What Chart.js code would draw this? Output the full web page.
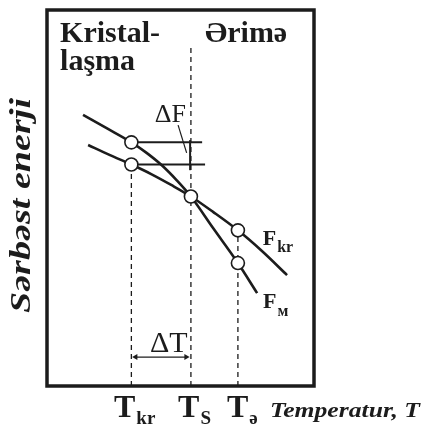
<!DOCTYPE html>
<html>
<head>
<meta charset="utf-8">
<script src="https://cdn.jsdelivr.net/npm/chart.js@4.4.0/dist/chart.umd.min.js"></script>
<style>
  html, body { margin: 0; padding: 0; background: #fff; }
  #wrap { width: 423px; height: 425px; position: relative; }
</style>
</head>
<body>
<div id="wrap"><canvas id="energy"></canvas></div>
<script>
// free energy curves, temperature and energy in arbitrary units (0..100)
const tempCrystal = [15.4, 23.6, 31.6, 39.2, 46.7, 53.9, 62.2, 71.5, 80.5, 89.9];
const energyCrystal = [64.1, 61.4, 58.9, 56.3, 53.4, 50.4, 46.3, 41.4, 35.9, 29.5];
const tempMelt = [13.5, 22.5, 31.6, 37.3, 43.0, 48.6, 53.9, 62.2, 71.5, 78.7];
const energyMelt = [72.1, 68.5, 64.8, 62.0, 58.7, 54.7, 50.4, 42.0, 32.7, 24.7];

// T_kr, T_S, T_ə
const keyTemps = [31.6, 53.9, 71.5];
const keyTempTops = [58.9, 89.9, 41.4];
const tickLabels = [["T", "kr"], ["T", "S"], ["T", "ə"]];

const markerTemp = [31.6, 31.6, 53.9, 71.5, 71.5];
const markerEnergy = [64.8, 58.9, 50.4, 41.4, 32.7];

// ΔF at T_kr
const deltaFEnergy = [64.8, 58.9];
const deltaFEnd = [58.1, 59.2];
const deltaFBar = { x: 53.6, from: 57.4, to: 65.4 };
const deltaFPointer = [[49.1, 69.4], [52.3, 62.0]];
// ΔT = T_S - T_kr
const deltaTArrow = { y: 7.7, from: 33.2, to: 52.1 };

const ink = "#1c1c1c";
const serif = "'Liberation Serif', 'Times New Roman', 'DejaVu Serif', serif";

function pts(xs, ys) {
  return xs.map((x, i) => ({ x: x, y: ys[i] }));
}

function lineSet(data, width, dash, order) {
  return {
    data: data,
    borderColor: ink,
    borderWidth: width,
    borderDash: dash || [],
    pointRadius: 0,
    fill: false,
    showLine: true,
    order: order,
  };
}

const datasets = [
  {
    data: pts(markerTemp, markerEnergy),
    showLine: false,
    pointRadius: 6.5,
    pointBackgroundColor: "#fff",
    pointBorderColor: ink,
    pointBorderWidth: 1.6,
    order: 0,
  },
  Object.assign(lineSet(pts(tempCrystal, energyCrystal), 2.6, null, 1), { cubicInterpolationMode: "monotone" }),
  Object.assign(lineSet(pts(tempMelt, energyMelt), 2.6, null, 1), { cubicInterpolationMode: "monotone" }),
];

keyTemps.forEach((t, i) => {
  datasets.push(lineSet([{ x: t, y: 0 }, { x: t, y: keyTempTops[i] }], 1.3, [5, 4], 3));
});
deltaFEnergy.forEach((f, i) => {
  datasets.push(lineSet([{ x: keyTemps[0], y: f }, { x: deltaFEnd[i], y: f }], 2, null, 2));
});
datasets.push(lineSet([{ x: deltaFBar.x, y: deltaFBar.from }, { x: deltaFBar.x, y: deltaFBar.to }], 2, null, 2));
datasets.push(lineSet(deltaFPointer.map((p) => ({ x: p[0], y: p[1] })), 1.2, null, 2));
datasets.push({
  data: [{ x: deltaTArrow.from, y: deltaTArrow.y }, { x: deltaTArrow.to, y: deltaTArrow.y }],
  borderColor: ink,
  borderWidth: 1.2,
  showLine: true,
  pointStyle: "triangle",
  pointRotation: [-90, 90],
  pointRadius: 3.5,
  pointBackgroundColor: ink,
  pointBorderWidth: 0,
  order: 2,
});

function drawText(ctx, text, px, py, font, width) {
  ctx.save();
  ctx.font = font;
  ctx.translate(px, py);
  if (width) ctx.scale(width / ctx.measureText(text).width, 1);
  ctx.fillText(text, 0, 0);
  ctx.restore();
}

function drawSub(ctx, main, sub, px, py, subDrop, mainFont, subFont) {
  ctx.font = mainFont;
  const w = ctx.measureText(main).width;
  ctx.fillText(main, px, py);
  ctx.font = subFont;
  ctx.fillText(sub, px + w + 1, py + subDrop);
}

const labelPlugin = {
  id: "labels",
  afterDraw(chart) {
    const ctx = chart.ctx;
    const a = chart.chartArea;
    const x = chart.scales.x;
    const y = chart.scales.y;
    const X = (v) => x.getPixelForValue(v);
    const Y = (v) => y.getPixelForValue(v);

    ctx.save();
    ctx.strokeStyle = ink;
    ctx.lineWidth = 3.5;
    ctx.strokeRect(a.left, a.top, a.right - a.left, a.bottom - a.top);

    ctx.fillStyle = ink;
    ctx.textAlign = "left";
    ctx.textBaseline = "alphabetic";

    drawText(ctx, "Kristal-", X(4.9), Y(91.4), "bold 30px " + serif);
    drawText(ctx, "laşma", X(4.9), Y(84.0), "bold 30px " + serif);
    drawText(ctx, "Ərimə", X(59.2), Y(91.4), "bold 30px " + serif);

    drawText(ctx, "ΔF", X(40.4), Y(70.2), "26px " + serif);
    drawText(ctx, "ΔT", X(38.6), Y(9.0), "30px " + serif);

    drawSub(ctx, "F", "kr", X(80.8), Y(37.5), 6.5, "bold 22px " + serif, "bold 16px " + serif);
    drawSub(ctx, "F", "м", X(80.9), Y(20.7), 8, "bold 22px " + serif, "bold 16px " + serif);

    const labelStart = [25.1, 49.1, 67.4];
    tickLabels.forEach((l, i) => {
      drawSub(ctx, l[0], l[1], X(labelStart[i]), Y(-8.2), 7.5, "bold 32px " + serif, "bold 19px " + serif);
    });
    drawText(ctx, "Temperatur, T", X(83.5), Y(-8.2), "italic bold 22px " + serif, 150);

    // y axis title
    ctx.save();
    ctx.font = "italic bold 30px " + serif;
    ctx.translate(X(-6.55), Y(48.0));
    ctx.rotate(-Math.PI / 2);
    ctx.scale(215 / ctx.measureText("Sərbəst enerji").width, 1);
    ctx.textAlign = "center";
    ctx.fillText("Sərbəst enerji", 0, 0);
    ctx.restore();

    ctx.restore();
  },
};

new Chart(document.getElementById("energy"), {
  type: "scatter",
  data: { datasets: datasets },
  options: {
    responsive: true,
    maintainAspectRatio: false,
    animation: false,
    events: [],
    layout: { padding: { left: 47, top: 10, right: 109, bottom: 39 } },
    plugins: {
      legend: { display: false },
      tooltip: { enabled: false },
    },
    scales: {
      x: { type: "linear", min: 0, max: 100, display: false },
      y: { type: "linear", min: 0, max: 100, display: false },
    },
  },
  plugins: [labelPlugin],
});
</script>
</body>
</html>
